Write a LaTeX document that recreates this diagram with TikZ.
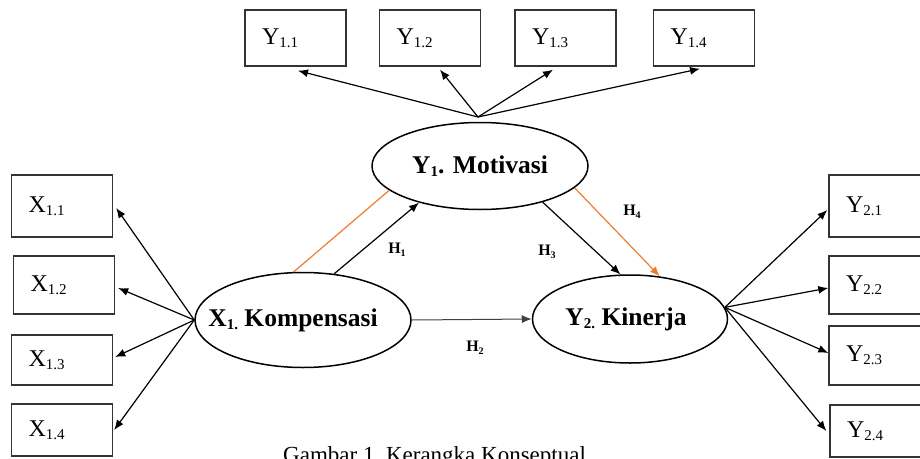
\documentclass[tikz,border=0pt]{standalone}
\usepackage{fontspec}
\setmainfont{Liberation Serif}
\usetikzlibrary{shapes.geometric,arrows.meta}
\definecolor{orng}{RGB}{237,125,49}
\newcommand{\subx}[2]{\raisebox{-3pt}{\fontsize{#1}{#1}\selectfont #2}}
\tikzset{
 ind/.style={draw=black!80, line width=1.4pt, inner xsep=17pt, inner ysep=0pt, text width=67pt, align=left, font=\fontsize{24}{28}\selectfont},
 lat/.style={draw, ellipse, line width=1.5pt, inner sep=0pt},
 lattext/.style={font=\bfseries\fontsize{25.5}{28}\selectfont},
 arr/.style={line width=1.2pt, -{Latex[length=10pt,width=8pt]}},
 hl/.style={font=\bfseries\fontsize{16}{18}\selectfont},
}
\begin{document}
\begin{tikzpicture}[x=1pt,y=-1pt]
\useasboundingbox (0,0) rectangle (920,458);
\clip (0,0) rectangle (920,458);
% latent variables
\node[lat, minimum width=216pt, minimum height=87pt,
  label={[lattext]center:Y\subx{15}{1}. Motivasi}] (y1) at (480,166) {};
\node[lat, minimum width=216pt, minimum height=95pt,
  label={[lattext, xshift=-10pt]center:X\subx{15}{1.} Kompensasi}] (x1) at (303,320) {};
\node[lat, minimum width=195pt, minimum height=88pt,
  label={[lattext, xshift=-4pt]center:Y\subx{15}{2.} Kinerja}] (y2) at (630,319) {};
% top indicators
\node[ind, minimum height=56pt] (y11) at (295.5,38) {Y\subx{15}{1.1}};
\node[ind, minimum height=56pt] (y12) at (430,38) {Y\subx{15}{1.2}};
\node[ind, minimum height=56pt] (y13) at (565.5,38) {Y\subx{15}{1.3}};
\node[ind, minimum height=56pt] (y14) at (704,38) {Y\subx{15}{1.4}};
% left indicators
\node[ind, minimum height=62pt] (x11) at (62,206) {X\subx{15}{1.1}};
\node[ind, minimum height=58pt] (x12) at (64,285) {X\subx{15}{1.2}};
\node[ind, minimum height=50pt] (x13) at (62,360) {X\subx{15}{1.3}};
\node[ind, minimum height=52pt] (x14) at (62,430) {X\subx{15}{1.4}};
% right indicators
\node[ind, minimum height=62pt] (y21) at (879.5,206) {Y\subx{15}{2.1}};
\node[ind, minimum height=58pt] (y22) at (879.5,285) {Y\subx{15}{2.2}};
\node[ind, minimum height=59pt] (y23) at (879.5,355.5) {Y\subx{15}{2.3}};
\node[ind, minimum height=52pt] (y24) at (880.5,431) {Y\subx{15}{2.4}};
% convergence points
\coordinate (ytop) at (478,117);
\coordinate (rconv) at (y2.7);
% top arrows
\draw[arr] (ytop) -- ([xshift=2.5pt,yshift=-4pt]y11.south);
\draw[arr] (ytop) -- ([xshift=10pt,yshift=-3pt]y12.south);
\draw[arr] (ytop) -- ([xshift=-12.5pt,yshift=-3pt]y13.south);
\draw[arr] (ytop) -- ([xshift=-4pt,yshift=-2pt]y14.south);
% left arrows
\draw[arr] (x1.west) -- ([xshift=3pt,yshift=-2pt]x11.east);
\draw[arr] (x1.west) -- ([xshift=3pt,yshift=-3pt]x12.east);
\draw[arr] (x1.west) -- ([xshift=2pt,yshift=3pt]x13.east);
\draw[arr] (x1.west) -- ([xshift=1pt]x14.east);
% right arrows
\draw[arr] (rconv) -- ([xshift=-1pt,yshift=-4pt]y21.west);
\draw[arr] (rconv) -- ([yshift=-3pt]y22.west);
\draw[arr] (rconv) -- ([yshift=2.5pt]y23.west);
\draw[arr] (rconv) -- ([xshift=-3pt]y24.west);
% structural paths
\draw[orng, line width=1.2pt] (x1.101.8) -- (y1.195.6);
\draw[arr] (x1.56.9) -- (y1.211.2);
\draw[arr, black!75, line width=1pt] (x1.east) -- (y2.west);
\draw[arr] (y1.330.4) -- (y2.102.3);
\draw[arr, orng] (y1.347) -- (y2.55.2);
% hypothesis labels
\node[hl] (h1) at (397,250) {H\subx{10}{1}};
\node[hl] (h2) at (475,348) {H\subx{10}{2}};
\node[hl] (h3) at (547,252) {H\subx{10}{3}};
\node[hl] (h4) at (632,212) {H\subx{10}{4}};
% caption
\node[anchor=base west, inner sep=0pt, font=\fontsize{23}{26}\selectfont] (cap) at (283,462) {Gambar 1.\ Kerangka Konseptual};
\end{tikzpicture}
\end{document}
